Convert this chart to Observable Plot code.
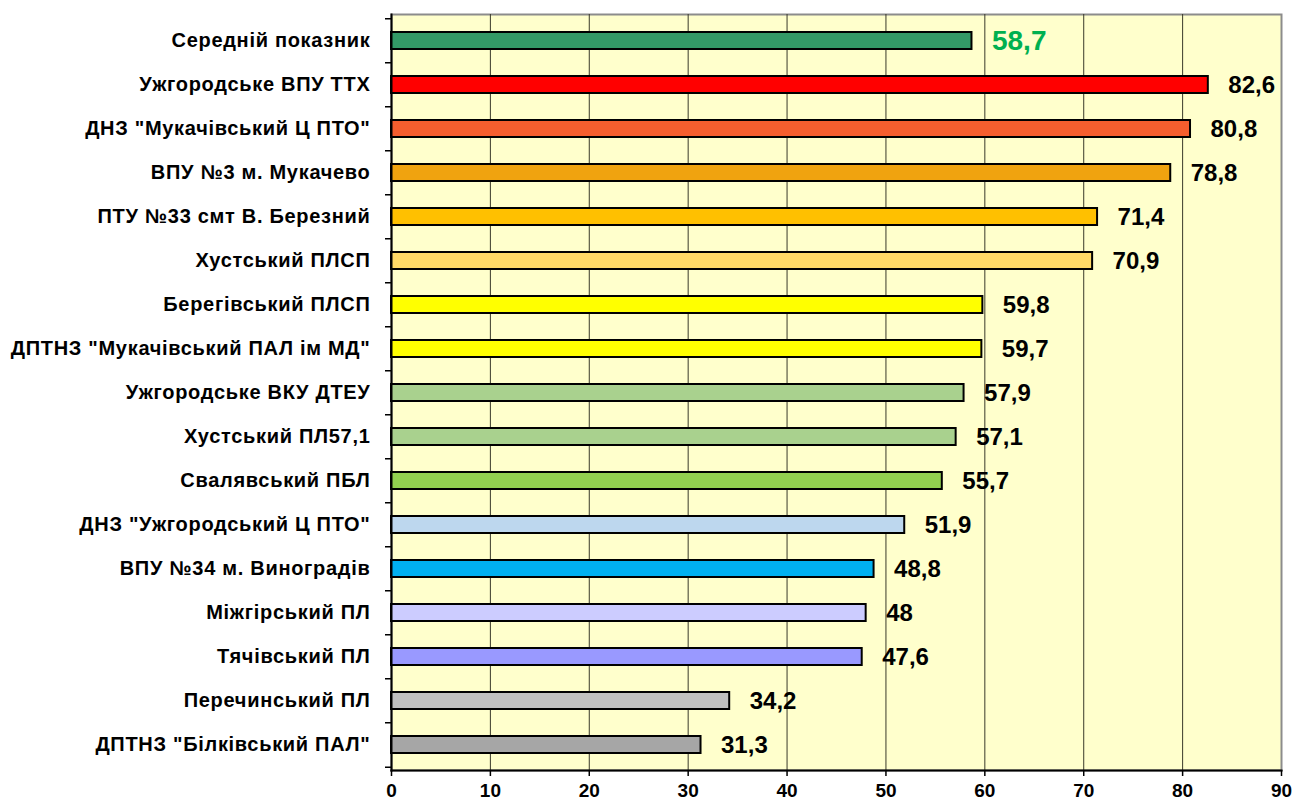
<!DOCTYPE html>
<html><head><meta charset="utf-8">
<script src="https://cdn.jsdelivr.net/npm/d3@7"></script>
<script src="https://cdn.jsdelivr.net/npm/@observablehq/plot@0.6"></script>
<style>
body{margin:0;background:#fff;}
#chart svg{display:block;font-family:"Liberation Sans",Arial,sans-serif;}
#chart svg g[aria-label="y-axis tick label"] text{letter-spacing:0.7px;}
</style></head>
<body><div id="chart"></div>
<script>
const categories = [
  "Середній показник",
  "Ужгородське ВПУ ТТХ",
  "ДНЗ \"Мукачівський Ц ПТО\"",
  "ВПУ №3 м. Мукачево",
  "ПТУ №33 смт В. Березний",
  "Хустський ПЛСП",
  "Берегівський ПЛСП",
  "ДПТНЗ \"Мукачівський ПАЛ ім МД\"",
  "Ужгородське ВКУ ДТЕУ",
  "Хустський ПЛ57,1",
  "Свалявський ПБЛ",
  "ДНЗ \"Ужгородський Ц ПТО\"",
  "ВПУ №34 м. Виноградів",
  "Міжгірський ПЛ",
  "Тячівський ПЛ",
  "Перечинський ПЛ",
  "ДПТНЗ \"Білківський ПАЛ\""
];
const values = [58.7, 82.6, 80.8, 78.8, 71.4, 70.9, 59.8, 59.7, 57.9, 57.1, 55.7, 51.9, 48.8, 48, 47.6, 34.2, 31.3];
const colors = ["#339966","#FF0000","#F55E2E","#F0A30F","#FFC000","#FFD966","#FFFF00","#FFFF00","#A9D18E","#A9D18E","#92D050","#BDD7EE","#00B0F0","#CCCCFF","#9999FF","#C0C0C0","#A6A6A6"];
const xTicks = [0,10,20,30,40,50,60,70,80,90];

const data = categories.map((c,i)=>({name:c, value:values[i], color:colors[i], idx:i}));
const fmt = v => String(v).replace(".", ",");

const W = 1295, H = 802, mT = 14, mB = 32;
const halfStep = (H - mT - mB) / categories.length / 2;

const chart = Plot.plot({
  width: W, height: H,
  marginLeft: 391, marginRight: 14, marginTop: mT, marginBottom: mB,
  style: {fontFamily: "'Liberation Sans', Arial, sans-serif", background: "#fff", color: "#000"},
  x: {domain: [0, 90], ticks: xTicks, label: null},
  y: {domain: categories, paddingInner: 0.62, paddingOuter: 0.31, label: null},
  marks: [
    Plot.frame({fill: "#FFFFCC", stroke: "#8c8c8c", strokeWidth: 2}),
    Plot.gridX(xTicks.filter(t => t > 0 && t < 90), {stroke: "#3a3a2a", strokeOpacity: 1, strokeWidth: 1}),
    Plot.barX(data, {x: "value", y: "name", fill: "color", stroke: "#000", strokeWidth: 2}),
    Plot.text(data, {x: "value", y: "name", text: d => fmt(d.value), textAnchor: "start", dx: 20,
      fill: d => d.idx === 0 ? "#00B050" : "#000",
      fontSize: d => d.idx === 0 ? 28 : 24, fontWeight: "bold"}),
    // category labels
    Plot.axisY({tickSize: 0, tickPadding: 21, fontSize: 20, fontWeight: "bold", label: null, fill: "#000"}),
    // boundary ticks (between categories)
    Plot.axisY({tickSize: 6, tickFormat: () => "", label: null, stroke: "#000", strokeWidth: 1.5, dy: -halfStep}),
    Plot.axisY({ticks: [categories[categories.length - 1]], tickSize: 6, tickFormat: () => "", label: null, stroke: "#000", strokeWidth: 1.5, dy: halfStep}),
    Plot.axisX({ticks: xTicks, tickSize: 6, tickPadding: 7, fontSize: 19, fontWeight: "bold", label: null, fill: "#000", stroke: "#000", strokeWidth: 1.5, tickFormat: d => String(d)}),
    Plot.frame({anchor: "left", stroke: "#000", strokeWidth: 2}),
    Plot.frame({anchor: "bottom", stroke: "#000", strokeWidth: 2})
  ]
});
document.getElementById("chart").appendChild(chart);
</script>
</body></html>
